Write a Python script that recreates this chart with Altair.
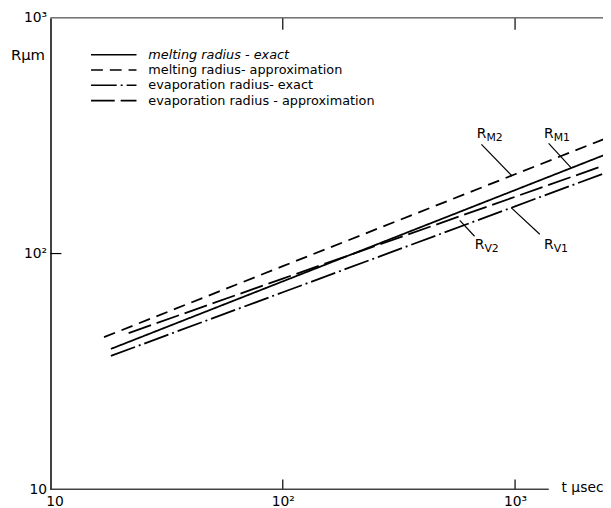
import altair as alt
import pandas as pd

FONT = "DejaVu Sans"

SERIES = ["melting radius - exact", "melting radius- approximation",
          "evaporation radius- exact", "evaporation radius - approximation"]
DASHES = [[1, 0], [12, 7], [26, 4, 2, 4], [24, 6]]

# values (t in microseconds, R in micrometres)
T_M1 = [18.2, 100, 1000, 2415]
R_M1 = [39.4, 76.2, 185.9, 261.6]
T_M2 = [17.0, 100, 1000, 2415]
R_M2 = [44.2, 88.4, 216.9, 306.0]
T_V1 = [18.2, 100, 1000, 2415]
R_V1 = [36.8, 68.5, 158.6, 218.8]
T_V2 = [21.7, 100, 1000, 2415]
R_V2 = [46.0, 78.3, 174.1, 236.4]

# curve labels and leader lines
LAB_SUB = ["M2", "M1", "V2", "V1"]
LAB_T = [752.7, 1466, 738, 1466]
LAB_R = [308, 308, 104.4, 104.4]
PTR_T1 = [716.6, 1395, 577.9, 961.6]
PTR_R1 = [290.6, 293.4, 138.2, 156.7]
PTR_T2 = [971, 1748, 669.2, 1277.5]
PTR_R2 = [213.3, 230.5, 118.4, 120.7]

X_TICKS = [100, 1000]
Y_TICKS = [100]
AXIS_VALUES = [10, 100, 1000]

W, H = 559, 477
XDOM = [10, 2391]
YDOM = [10, 1000]

rows = []
for name, ts, rs in zip(SERIES, [T_M1, T_M2, T_V1, T_V2], [R_M1, R_M2, R_V1, R_V2]):
    for t, r in zip(ts, rs):
        rows.append({"series": name, "t": t, "R": r})
df = pd.DataFrame(rows)

ann = pd.DataFrame({"sub": LAB_SUB, "lt": LAB_T, "lr": LAB_R,
                    "t1": PTR_T1, "r1": PTR_R1, "t2": PTR_T2, "r2": PTR_R2})

xs = alt.Scale(type="log", domain=XDOM, nice=False)
ys = alt.Scale(type="log", domain=YDOM, nice=False)
dash = alt.Scale(domain=SERIES, range=DASHES)

lab_expr = "datum.value == 10 ? '10' : (datum.value == 100 ? '10²' : '10³')"

lines = alt.Chart(df).mark_line(color="black", strokeWidth=1.8, clip=True).encode(
    x=alt.X("t:Q", scale=xs, axis=alt.Axis(
        values=AXIS_VALUES, labelExpr=lab_expr, ticks=False, tickSize=0, domain=False,
        grid=False, labelFont=FONT, labelFontSize=14, labelColor="black",
        labelPadding=5, labelFlush=False, labelOverlap=False,
        labelOffset={"condition": {"test": "datum.value == 10", "value": 4}, "value": 0},
        title="t μsec", titleX=559, titleY=2, titleAlign="right",
        titleBaseline="alphabetic", titleFont=FONT, titleFontSize=14,
        titleFontWeight="normal", titleColor="black")),
    y=alt.Y("R:Q", scale=ys, axis=alt.Axis(
        values=AXIS_VALUES, labelExpr=lab_expr, ticks=False, tickSize=0, domain=True,
        domainColor="black", domainWidth=1.5, grid=False, labelFont=FONT,
        labelFontSize=14, labelColor="black", labelPadding=4, labelFlush=False,
        labelOverlap=False, title="Rμm", titleAngle=0, titleAlign="right",
        titleBaseline="alphabetic", titleX=-6, titleY=42, titleFont=FONT,
        titleFontSize=15, titleFontWeight="normal", titleColor="black")),
    strokeDash=alt.StrokeDash("series:N", scale=dash, legend=None),
    detail="series:N",
)

ptrs = alt.Chart(ann).mark_rule(color="black", strokeWidth=1.2).encode(
    x=alt.X("t1:Q", scale=xs), x2="t2:Q",
    y=alt.Y("r1:Q", scale=ys), y2="r2:Q")

rlab = alt.Chart(ann).mark_text(text="R", font=FONT, fontSize=14, align="right",
                                baseline="alphabetic", color="black").encode(
    x=alt.X("lt:Q", scale=xs), y=alt.Y("lr:Q", scale=ys))

sublab = alt.Chart(ann).mark_text(font=FONT, fontSize=11, align="left",
                                  baseline="alphabetic", dy=3, color="black").encode(
    x=alt.X("lt:Q", scale=xs), y=alt.Y("lr:Q", scale=ys), text="sub:N")

xt = pd.DataFrame({"v": X_TICKS})
yt = pd.DataFrame({"v": Y_TICKS})
xtick_bot = alt.Chart(xt).mark_rule(color="black", strokeWidth=1.2).encode(
    x=alt.X("v:Q", scale=xs), y=alt.value(H), y2=alt.value(H - 10))
xtick_top = alt.Chart(xt).mark_rule(color="black", strokeWidth=1.2).encode(
    x=alt.X("v:Q", scale=xs), y=alt.value(0), y2=alt.value(12))
ytick = alt.Chart(yt).mark_rule(color="black", strokeWidth=1.2).encode(
    y=alt.Y("v:Q", scale=ys), x=alt.value(0), x2=alt.value(11))

xaxis_line = alt.Chart(xt).mark_rule(color="#333", strokeWidth=1.2).encode(
    x=alt.value(0), x2=alt.value(504), y=alt.value(H))
top_line = alt.Chart(xt).mark_rule(color="#666", strokeWidth=1).encode(
    x=alt.value(0), x2=alt.value(W), y=alt.value(0))

main = alt.layer(lines, ptrs, rlab, sublab, xtick_bot, xtick_top, ytick,
                 xaxis_line, top_line)

leg = pd.DataFrame({"series": SERIES, "row": list(range(len(SERIES)))})
ly = alt.Y("row:O", scale=alt.Scale(type="point", range=[37.3, 83.8], padding=0), axis=None)
leg_rule = alt.Chart(leg).mark_rule(color="black", strokeWidth=1.6).encode(
    x=alt.value(41), x2=alt.value(87), y=ly,
    strokeDash=alt.StrokeDash("series:N", scale=dash, legend=None))
leg_it = alt.Chart(leg).transform_filter(alt.datum.row == 0).mark_text(
    font=FONT, fontSize=13, fontStyle="italic", align="left", baseline="middle",
    color="black").encode(x=alt.value(99), y=ly, text="series:N")
leg_txt = alt.Chart(leg).transform_filter(alt.datum.row > 0).mark_text(
    font=FONT, fontSize=13, align="left", baseline="middle",
    color="black").encode(x=alt.value(99), y=ly, text="series:N")
legend = alt.layer(leg_rule, leg_it, leg_txt)

chart = alt.layer(main, legend).resolve_scale(y="independent").properties(
    width=W, height=H,
    padding={"left": 43, "top": 7, "right": 0, "bottom": 16},
    autosize=alt.AutoSizeParams(type="none"),
    background="white",
).configure_view(stroke=None)

chart.save("out.html", embed_options={"renderer": "svg", "actions": False})
